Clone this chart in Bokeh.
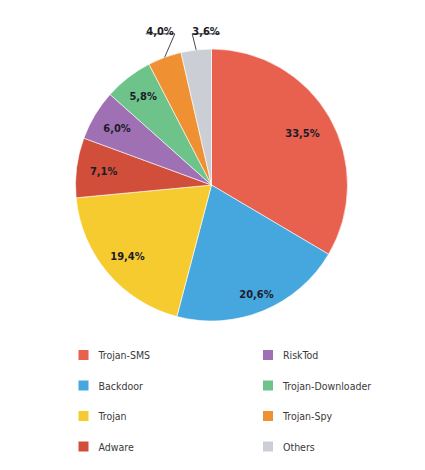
import numpy as np
from bokeh.plotting import figure
from bokeh.models import Range1d, ColumnDataSource
from bokeh.core.properties import value
from bokeh.embed import file_html
from bokeh.resources import INLINE

# ---- data ----
categories = ["Trojan-SMS", "Backdoor", "Trojan", "Adware",
              "RiskTod", "Trojan-Downloader", "Trojan-Spy", "Others"]
shares = [33.5, 20.6, 19.4, 7.1, 6.0, 5.8, 4.0, 3.6]
share_labels = ["33,5%", "20,6%", "19,4%", "7,1%", "6,0%", "5,8%", "4,0%", "3,6%"]
colors = ["#E8604E", "#45A7DD", "#F6CB30", "#D14F3A",
          "#A070B5", "#6DC38A", "#EF9033", "#CBCED4"]

# ---- layout (pixel-like data units, y = 470 - image_y) ----
W, H = 409, 454
TOP = 470
cx, cy, R = 211.0, TOP - 184.5, 136.0
label_r = [0.77, 0.87, 0.81, 0.80, 0.81, 0.82]
LABEL_FONT = "DejaVu Sans Condensed"

p = figure(width=W, height=H, x_range=Range1d(0, W), y_range=Range1d(TOP - H, TOP),
           output_backend="svg", toolbar_location=None, min_border=0)
p.axis.visible = False
p.grid.visible = False
p.outline_line_color = None
p.background_fill_color = "white"
p.border_fill_color = "white"

vals = np.array(shares, dtype=float)
cum = np.concatenate([[0.0], np.cumsum(vals)])
start_deg = 90 - cum[1:] * 3.6
end_deg = 90 - cum[:-1] * 3.6
mid_deg = 90 - (cum[:-1] + vals / 2) * 3.6

src = ColumnDataSource(dict(start=np.radians(start_deg), end=np.radians(end_deg), color=colors))
p.wedge(x=cx, y=cy, radius=R, start_angle="start", end_angle="end",
        fill_color="color", line_color="white", line_width=0.6, source=src)

# inside labels
n_in = 6
lx = [cx + label_r[i] * R * np.cos(np.radians(mid_deg[i])) for i in range(n_in)]
ly = [cy + label_r[i] * R * np.sin(np.radians(mid_deg[i])) for i in range(n_in)]
p.text(x=lx, y=ly, text=share_labels[:n_in], text_align="center", text_baseline="middle",
       text_font=value(LABEL_FONT), text_font_style="bold", text_font_size="11px",
       text_color="#1c1c28")

# outside labels with leader lines
ex = [cx + R * np.cos(np.radians(mid_deg[i])) for i in (6, 7)]
ey = [cy + R * np.sin(np.radians(mid_deg[i])) for i in (6, 7)]
uy = TOP - 33.3
xs = [[ex[0], 174.3, 145.3], [ex[1], 191.7, 219.3]]
ys = [[ey[0], uy, uy], [ey[1], uy, uy]]
p.multi_line(xs=xs, ys=ys, line_color="#333333", line_width=0.9)
p.text(x=[159.5, 205.5], y=[uy + 2.0, uy + 2.0], text=share_labels[6:],
       text_align="center", text_baseline="alphabetic",
       text_font=value(LABEL_FONT), text_font_style="bold", text_font_size="11px",
       text_color="#1c1c28")

# legend (two columns of four)
col_x = [83.0, 267.5]
row_y = [354.6, 385.1, 415.6, 446.1]
sq_x = [col_x[i // 4] for i in range(len(categories))]
sq_y = [TOP - row_y[i % 4] for i in range(len(categories))]
p.scatter(x=sq_x, y=sq_y, marker="square", size=10, fill_color=colors, line_color=None)
p.text(x=[x + 15 for x in sq_x], y=sq_y, text=categories, text_align="left",
       text_baseline="middle", text_font=value(LABEL_FONT), text_font_size="10.5px",
       text_color="#3a3a3a")

open("out.html", "w").write(file_html(p, INLINE))
